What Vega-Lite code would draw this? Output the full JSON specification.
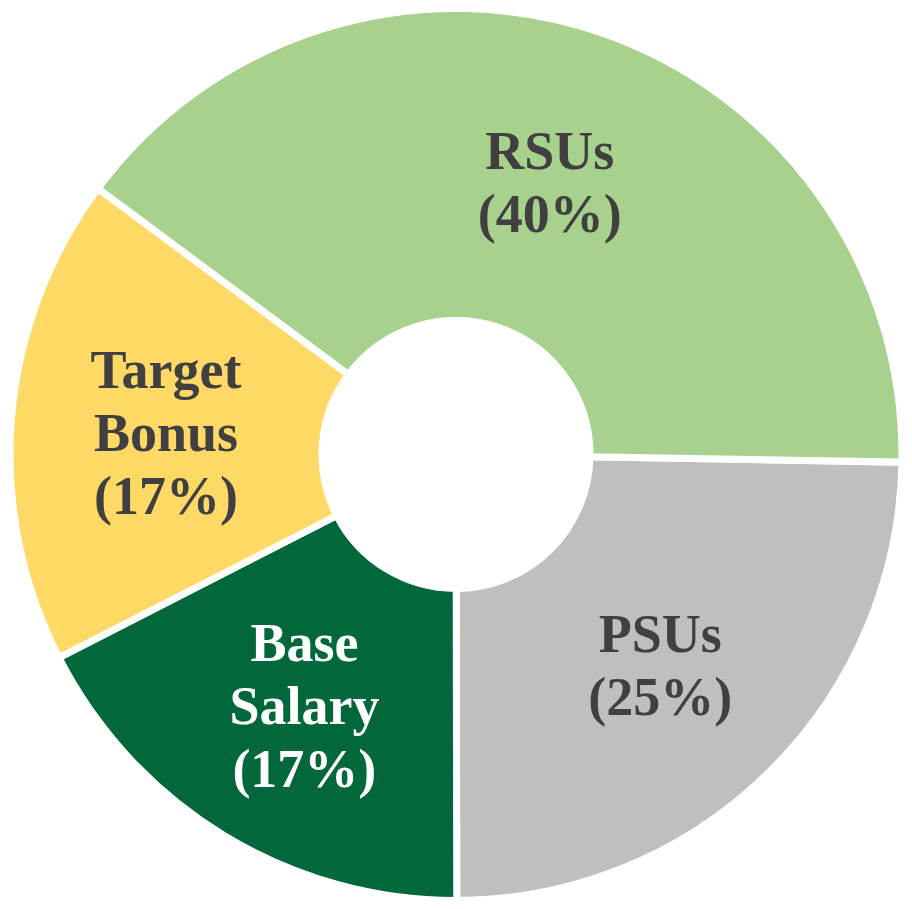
{
  "$schema": "https://vega.github.io/schema/vega-lite/v6.json",
  "width": 912,
  "height": 909,
  "autosize": {"type": "fit", "contains": "padding"},
  "padding": 0,
  "background": "white",
  "view": {"stroke": null},
  "data": {
    "values": [
      {"category": "PSUs", "value": 24.7, "label": "PSUs\n(25%)", "ord": 1},
      {"category": "Base Salary", "value": 17.5, "label": "Base\nSalary\n(17%)", "ord": 2},
      {"category": "Target Bonus", "value": 17.7, "label": "Target\nBonus\n(17%)", "ord": 3},
      {"category": "RSUs", "value": 40.1, "label": "RSUs\n(40%)", "ord": 4}
    ]
  },
  "encoding": {
    "theta": {"field": "value", "type": "quantitative", "stack": true, "scale": {"range": [1.588, 7.871]}},
    "order": {"field": "ord", "type": "quantitative"}
  },
  "layer": [
    {
      "mark": {"type": "arc", "outerRadius": 446, "innerRadius": 134, "stroke": "white", "strokeWidth": 7},
      "encoding": {
        "color": {
          "field": "category",
          "type": "nominal",
          "scale": {
            "domain": ["PSUs", "Base Salary", "Target Bonus", "RSUs"],
            "range": ["#BFBFBF", "#02683B", "#FFD966", "#A9D18E"]
          },
          "legend": null
        }
      }
    },
    {
      "mark": {
        "type": "text",
        "radius": 291,
        "dy": -26,
        "font": "Liberation Serif",
        "fontWeight": "bold",
        "fontSize": 54,
        "lineBreak": "\n",
        "lineHeight": 63,
        "align": "center",
        "baseline": "middle"
      },
      "encoding": {
        "text": {
          "condition": {"test": "datum.category === 'PSUs' || datum.category === 'RSUs'", "field": "label"},
          "value": ""
        },
        "color": {"value": "#404040"}
      }
    },
    {
      "mark": {
        "type": "text",
        "radius": 291,
        "dy": -58,
        "font": "Liberation Serif",
        "fontWeight": "bold",
        "fontSize": 54,
        "lineBreak": "\n",
        "lineHeight": 63,
        "align": "center",
        "baseline": "middle"
      },
      "encoding": {
        "text": {
          "condition": {"test": "datum.category === 'Base Salary' || datum.category === 'Target Bonus'", "field": "label"},
          "value": ""
        },
        "color": {
          "condition": {"test": "datum.category === 'Base Salary'", "value": "#FFFFFF"},
          "value": "#404040"
        }
      }
    }
  ]
}
